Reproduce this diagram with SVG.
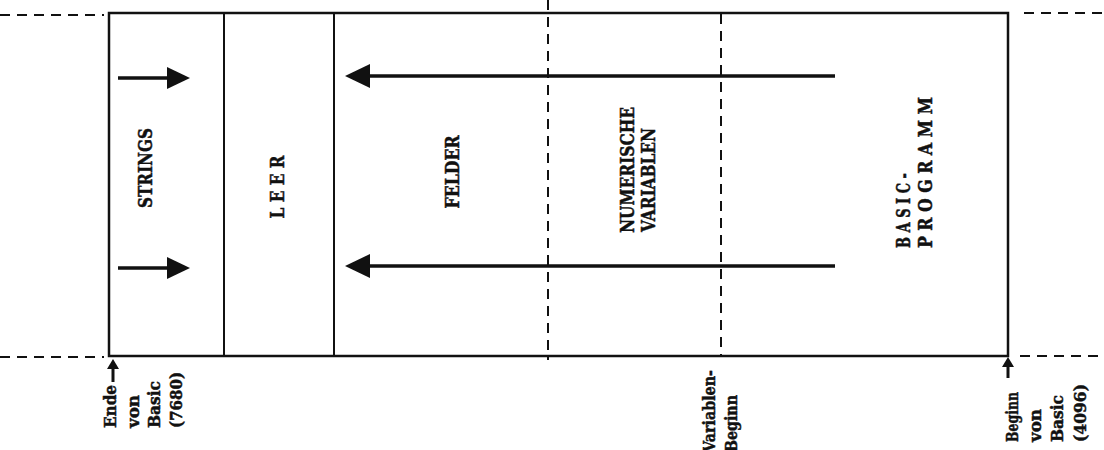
<svg xmlns="http://www.w3.org/2000/svg" width="1104" height="450" viewBox="0 0 1104 450">
<style>
.box{fill:none;stroke:#111;stroke-width:2.5}
.sol{stroke:#111;stroke-width:2}
.dash{stroke:#111;stroke-width:2;stroke-dasharray:10,7;fill:none}
.arr{stroke:#111;stroke-width:3.5;fill:none}
.head{fill:#111}
text{font-family:"DejaVu Serif","Liberation Serif",serif;font-weight:bold;fill:#111;stroke:#111;stroke-width:0.5;dominant-baseline:central}
.lbl{font-size:19px}
.sm{font-size:17px}
</style>
<rect width="1104" height="450" fill="#fff"/>
<g id="frame">
<rect class="box" x="109" y="13" width="899" height="343"/>
</g>
<g id="dividers">
<line class="sol" x1="224" y1="13" x2="224" y2="356"/>
<line class="sol" x1="334" y1="13" x2="334" y2="356"/>
<line class="dash" x1="548" y1="0" x2="548" y2="360"/>
<line class="dash" x1="721" y1="14" x2="721" y2="356"/>
<line class="dash" x1="0" y1="15" x2="104" y2="15"/>
<line class="dash" x1="0" y1="357" x2="104" y2="357"/>
<line class="dash" x1="1024" y1="13" x2="1104" y2="13"/>
<line class="dash" x1="1020" y1="356" x2="1104" y2="356"/>
</g>
<g id="strings"><text class="lbl" transform="translate(145,168) rotate(-90)" text-anchor="middle" textLength="80" lengthAdjust="spacingAndGlyphs">STRINGS</text></g>
<g id="leer"><text class="lbl" transform="translate(277,187) rotate(-90)" text-anchor="middle" textLength="63" lengthAdjust="spacingAndGlyphs">L E E R</text></g>
<g id="felder"><text class="lbl" transform="translate(452,172) rotate(-90)" text-anchor="middle" textLength="73" lengthAdjust="spacingAndGlyphs">FELDER</text></g>
<g id="numerische">
<text class="lbl" transform="translate(627,233) rotate(-90)" textLength="126" lengthAdjust="spacingAndGlyphs">NUMERISCHE</text>
<text class="lbl" transform="translate(648,232) rotate(-90)" textLength="104" lengthAdjust="spacingAndGlyphs">VARIABLEN</text>
</g>
<g id="basicprogramm">
<text class="lbl" transform="translate(903,248) rotate(-90)" textLength="75" lengthAdjust="spacingAndGlyphs">B A S I C -</text>
<text class="lbl" transform="translate(925,248) rotate(-90)" textLength="151" lengthAdjust="spacingAndGlyphs">P R O G R A M M</text>
</g>
<g id="connectors">
<line class="arr" x1="118" y1="78" x2="170" y2="78"/>
<polygon class="head" points="167,67 190,78 167,89"/>
<line class="arr" x1="118" y1="268" x2="170" y2="268"/>
<polygon class="head" points="167,257 190,268 167,279"/>
<line class="arr" x1="835" y1="76" x2="366" y2="76"/>
<polygon class="head" points="370,64 345,76 370,88"/>
<line class="arr" x1="835" y1="266" x2="366" y2="266"/>
<polygon class="head" points="370,254 345,266 370,278"/>
<line class="arr" x1="113" y1="366" x2="113" y2="382" style="stroke-width:3"/>
<polygon class="head" points="107,369 113,359 119,369"/>
<line class="arr" x1="1008" y1="364" x2="1008" y2="378" style="stroke-width:3"/>
<polygon class="head" points="1002,367 1008,357 1014,367"/>
</g>
<g id="ende">
<text class="sm" transform="translate(110,428) rotate(-90)" textLength="43" lengthAdjust="spacingAndGlyphs">Ende</text>
<text class="sm" transform="translate(133,428) rotate(-90)" textLength="33" lengthAdjust="spacingAndGlyphs">von</text>
<text class="sm" transform="translate(154,428) rotate(-90)" textLength="47" lengthAdjust="spacingAndGlyphs">Basic</text>
<text class="sm" transform="translate(176,428) rotate(-90)" textLength="56" lengthAdjust="spacingAndGlyphs">(7680)</text>
</g>
<g id="variablen">
<text class="sm" transform="translate(709,452) rotate(-90)" textLength="82" lengthAdjust="spacingAndGlyphs">Variablen-</text>
<text class="sm" transform="translate(731,452) rotate(-90)" textLength="57" lengthAdjust="spacingAndGlyphs">Beginn</text>
</g>
<g id="beginn">
<text class="sm" transform="translate(1012,442) rotate(-90)" textLength="50" lengthAdjust="spacingAndGlyphs">Beginn</text>
<text class="sm" transform="translate(1035,442) rotate(-90)" textLength="33" lengthAdjust="spacingAndGlyphs">von</text>
<text class="sm" transform="translate(1057,442) rotate(-90)" textLength="47" lengthAdjust="spacingAndGlyphs">Basic</text>
<text class="sm" transform="translate(1080,442) rotate(-90)" textLength="58" lengthAdjust="spacingAndGlyphs">(4096)</text>
</g>
</svg>
